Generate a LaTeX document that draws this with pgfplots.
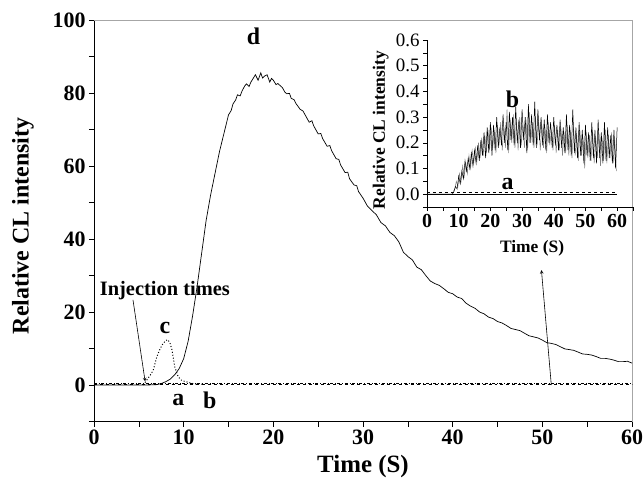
\documentclass[border=0pt]{standalone}
\usepackage{fontspec}
\setmainfont{Liberation Serif}
\usepackage{pgfplots}
\pgfplotsset{compat=1.18}
\begin{document}
\begin{tikzpicture}
\path[use as bounding box] (-94bp,-64.5bp) rectangle (550bp,421.5bp);
\begin{axis}[
  at={(0,0)}, anchor=south west,
  width=538bp, height=401.5bp, scale only axis,
  xmin=0, xmax=60, ymin=-10, ymax=100,
  axis lines=left, axis line style={-, line width=0.8pt, black},
  xtick={0,10,...,60}, minor xtick={5,15,...,55},
  ytick={0,20,...,100}, minor ytick={-10,10,...,90},
  tick align=outside, major tick length=5bp, minor tick length=5bp,
  tick style={black, line width=0.6pt},
  ticklabel style={font=\fontsize{22}{24}\selectfont\bfseries},
  /pgf/number format/assume math mode=true,
  xlabel={Time (S)}, ylabel={Relative CL intensity},
  xlabel style={font=\fontsize{25}{27}\selectfont\bfseries, at={(axis description cs:0.5,-0.113)}, anchor=center},
  ylabel style={font=\fontsize{24}{26}\selectfont\bfseries, at={(axis description cs:-0.132,0.487)}, anchor=center},
  clip=false,
]
\draw[gray!70, line width=0.8pt] (rel axis cs:0,1) -- (rel axis cs:1,1) -- (rel axis cs:1,0);
% curve a (dashed) and b (dash-dot)
\addplot[black, dashed, line width=0.6pt] coordinates {(0,0.15) (60,0.15)};
\addplot[black, dash dot, line width=0.6pt] coordinates {(0,0.35) (60,0.35)};
% curve c (dotted)
\addplot[black, dotted, line width=1pt] coordinates {
(5.5,0) (5.9,1.4) (6.3,2.8) (6.6,4) (7,7.7) (7.3,9.5) (7.6,11) (8,12.2) (8.25,12.4)
(8.5,11.3) (8.7,9.6) (9,5) (9.4,2.2) (9.8,1.2) (10.4,0.8) (11,0.4) (12,0.2)};
% curve d (solid)
\addplot[black, line width=0.7pt] coordinates {
(0,0) (5,0) (6,0) (7,0.1) (7.5,0.4) (8,0.9) (8.5,1.6) (9,2.8) (9.5,4.5) (10,7.2)
(10.5,12) (11,19) (11.5,27) (12,36) (12.5,45) (13,52) (13.5,58) (14,64) (14.5,69)
(15,74) (15.3,75.2) (15.5,77) (15.8,78.1) (16,79.5) (16.3,79.2) (16.5,80.5) (16.8,81.9)
(17,82.5) (17.3,81.8) (17.5,83) (17.8,84.2) (18,85) (18.3,83.5) (18.6,85.5) (18.8,84.1)
(19,84.6) (19.3,85) (19.6,83) (19.8,84) (20,83.5) (20.3,82.3) (20.5,82.6) (21,81.5)
(21.3,80.2) (21.5,79.8) (21.8,79.9) (22,78.5) (22.3,78.2) (22.5,77.2) (23,75.5)
(23.3,75.1) (23.5,74.2) (24,72) (24.3,72.4) (24.5,71) (25,68.8) (25.3,68.9) (25.5,67.5)
(26,65.4) (26.3,65.6) (26.5,64.2) (27,62) (27.3,61.8) (27.5,60.3) (28,58.2) (28.3,58.3)
(28.5,56.5) (29,54.8) (29.3,54.6) (29.5,53) (30,51.2) (30.5,49.0) (31,47.8) (31.5,46.6)
(32,44.5) (32.5,43.6) (33,41.8) (33.5,40.9) (34,39.2) (34.5,36.4) (35,35.2) (35.5,34.3)
(36,32.3) (36.5,31.6) (37,30) (37.5,28.5) (38,27.8) (38.5,27.3) (39,26.4) (39.5,25.4)
(40,25) (40.5,24.1) (41,23.7) (41.5,22.4) (42,21.6) (42.5,21.0) (43,20) (43.5,19.5)
(44,18.6) (44.5,18.2) (45,17.4) (45.5,17.0) (46,16.3) (46.5,15.5) (47,15.2) (47.5,14.9)
(48,14.2) (48.5,13.5) (49,13.2) (49.5,12.9) (50,12.3) (50.5,11.6) (51,11.4) (51.5,11.1)
(52,10.5) (52.5,9.9) (53,9.7) (53.5,9.5) (54,9) (54.5,8.5) (55,8.4) (55.5,8.2) (56,7.8)
(56.5,7.3) (57,7.3) (57.5,7.1) (58,6.8) (58.5,6.4) (59,6.4) (59.5,6.5) (60,6.0)};
\node[font=\fontsize{24}{26}\selectfont\bfseries] at (axis cs:17.8,95.5) {d};
\node[font=\fontsize{24}{26}\selectfont\bfseries] at (axis cs:7.9,15.5) {c};
\node[font=\fontsize{24}{26}\selectfont\bfseries] at (axis cs:9.4,-4.1) {a};
\node[font=\fontsize{24}{26}\selectfont\bfseries] at (axis cs:12.9,-4.1) {b};
\node[font=\fontsize{20.5}{22}\selectfont\bfseries] at (axis cs:7.9,26) {Injection times};
\draw[-stealth, line width=0.6pt] (axis cs:4.35,23.3) -- (axis cs:5.7,1.0);
\draw[-stealth, line width=0.6pt] (axis cs:51,0) -- (axis cs:49.9,31.5);
\end{axis}
\begin{axis}[
  at={(333bp,214.5bp)}, anchor=south west,
  width=206bp, height=167bp, scale only axis,
  xmin=0, xmax=65, ymin=-0.05, ymax=0.6,
  axis lines=left, axis line style={-, line width=0.7pt, black},
  xtick={0,10,...,60}, minor xtick={5,15,...,65},
  ytick={0,0.1,...,0.6}, minor ytick={-0.05,0.05,...,0.55},
  tick align=outside, major tick length=4bp, minor tick length=4bp,
  tick style={black, line width=0.5pt},
  x tick label style={font=\fontsize{20}{22}\selectfont\bfseries},
  y tick label style={font=\fontsize{19}{21}\selectfont, /pgf/number format/.cd, fixed, fixed zerofill, precision=1},
  /pgf/number format/assume math mode=true,
  xlabel={Time (S)}, ylabel={Relative CL intensity},
  label style={font=\fontsize{17.5}{19}\selectfont\bfseries},
  xlabel style={at={(axis description cs:0.51,-0.246)}, anchor=center},
  ylabel style={at={(axis description cs:-0.225,0.46)}, anchor=center},
]
\addplot[black, line width=0.6pt] coordinates {(0,0) (60,0)};
\addplot[black, dashed, line width=0.5pt] coordinates {(0,0.008) (60,0.008)};
\addplot[gray, line width=0.5pt] coordinates {
(8.25,0.01) (8.75,0.02) (9.25,0.05) (9.75,0.03) (10.25,0.08) (10.75,0.05) (11.25,0.11)
(11.75,0.07) (12.25,0.12) (12.75,0.08) (13.25,0.15) (13.75,0.10) (14.25,0.17) (14.75,0.12)
(15.25,0.18) (15.75,0.13) (16.25,0.20) (16.75,0.14) (17.25,0.22) (17.75,0.15) (18.25,0.23)
(18.75,0.16) (19.25,0.25) (19.75,0.17) (20.25,0.26) (20.75,0.18) (21.25,0.25) (21.75,0.16)
(22.25,0.27) (22.75,0.19) (23.25,0.28) (23.75,0.17) (24.25,0.26) (24.75,0.18) (25.25,0.33)
(25.75,0.16) (26.25,0.29) (26.75,0.20) (27.25,0.31) (27.75,0.18) (28.25,0.28) (28.75,0.17)
(29.25,0.30) (29.75,0.19) (30.25,0.27) (30.75,0.18) (31.25,0.29) (31.75,0.17) (32.25,0.32)
(32.75,0.20) (33.25,0.28) (33.75,0.18) (34.25,0.30) (34.75,0.19) (35.25,0.28) (35.75,0.17)
(36.25,0.27) (36.75,0.18) (37.25,0.26) (37.75,0.16) (38.25,0.28) (38.75,0.19) (39.25,0.25)
(39.75,0.17) (40.25,0.27) (40.75,0.16) (41.25,0.25) (41.75,0.17) (42.25,0.26) (42.75,0.15)
(43.25,0.24) (43.75,0.16) (44.25,0.27) (44.75,0.15) (45.25,0.25) (45.75,0.14) (46.25,0.26)
(46.75,0.15) (47.25,0.23) (47.75,0.13) (48.25,0.25) (48.75,0.15) (49.25,0.22) (49.75,0.10)
(50.25,0.24) (50.75,0.14) (51.25,0.23) (51.75,0.13) (52.25,0.25) (52.75,0.12) (53.25,0.22)
(53.75,0.14) (54.25,0.24) (54.75,0.11) (55.25,0.22) (55.75,0.13) (56.25,0.25) (56.75,0.12)
(57.25,0.23) (57.75,0.14) (58.25,0.24) (58.75,0.12) (59.25,0.21) (59.75,0.09)};
\addplot[black, line width=0.5pt] coordinates {
(0,0) (8,0) (8.5,0.01) (9,0.03) (9.5,0.02) (10,0.07) (10.5,0.04) (11,0.09) (11.5,0.06)
(12,0.13) (12.5,0.09) (13,0.14) (13.5,0.10) (14,0.16) (14.5,0.11) (15,0.17) (15.5,0.12)
(16,0.19) (16.5,0.13) (17,0.21) (17.5,0.15) (18,0.24) (18.5,0.14) (19,0.26) (19.5,0.16)
(20,0.28) (20.5,0.15) (21,0.27) (21.5,0.17) (22,0.30) (22.5,0.18) (23,0.26) (23.5,0.19)
(24,0.31) (24.5,0.20) (25,0.28) (25.5,0.17) (26,0.32) (26.5,0.21) (27,0.30) (27.5,0.19)
(28,0.34) (28.5,0.20) (29,0.29) (29.5,0.18) (30,0.33) (30.5,0.21) (31,0.30) (31.5,0.16)
(32,0.35) (32.5,0.20) (33,0.31) (33.5,0.19) (34,0.36) (34.5,0.18) (35,0.33) (35.5,0.21)
(36,0.30) (36.5,0.19) (37,0.29) (37.5,0.17) (38,0.31) (38.5,0.20) (39,0.28) (39.5,0.18)
(40,0.30) (40.5,0.19) (41,0.27) (41.5,0.17) (42,0.29) (42.5,0.18) (43,0.26) (43.5,0.16)
(44,0.31) (44.5,0.17) (45,0.27) (45.5,0.15) (46,0.33) (46.5,0.16) (47,0.26) (47.5,0.14)
(48,0.28) (48.5,0.15) (49,0.25) (49.5,0.12) (50,0.27) (50.5,0.15) (51,0.24) (51.5,0.13)
(52,0.28) (52.5,0.14) (53,0.25) (53.5,0.12) (54,0.29) (54.5,0.14) (55,0.24) (55.5,0.12)
(56,0.28) (56.5,0.13) (57,0.26) (57.5,0.14) (58,0.23) (58.5,0.12) (59,0.25) (59.5,0.10)
(60,0.26)};
\node[font=\fontsize{24}{26}\selectfont\bfseries] at (axis cs:27,0.37) {b};
\node[font=\fontsize{24}{26}\selectfont\bfseries] at (axis cs:25.4,0.04) {a};
\end{axis}
\end{tikzpicture}
\end{document}
